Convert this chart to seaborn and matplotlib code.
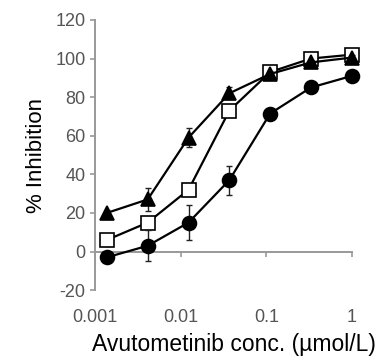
import matplotlib
matplotlib.use('Agg')
import matplotlib.pyplot as plt
import seaborn as sns
import pandas as pd

# threefold dilutions, µmol/L
conc = [1/729, 1/243, 1/81, 1/27, 1/9, 1/3, 1.0]

# % inhibition
tri_mean = [20, 27, 59, 82, 92, 98, 100.5]
tri_err = [1.5, 6, 5, 3, 1.5, 1.5, 1.5]
sq_mean = [6, 15, 32, 73, 93, 100, 102]
sq_err = [3, 2, 2, 2, 2, 1.5, 1.5]
circ_mean = [-3, 3, 15, 37, 71.5, 85, 91]
circ_err = [2, 8, 9, 7.5, 2, 1.5, 1.5]

xticks = [0.001, 0.01, 0.1, 1]
xticklabels = ['0.001', '0.01', '0.1', '1']
yticks = [-20, 0, 20, 40, 60, 80, 100, 120]

sns.set_theme(style="ticks")
plt.rcParams['font.family'] = ['Liberation Sans', 'DejaVu Sans']
plt.rcParams['axes.unicode_minus'] = False

df = pd.concat([
    pd.DataFrame({'conc': conc, 'inh': sq_mean, 'err': sq_err, 'series': 'sq'}),
    pd.DataFrame({'conc': conc, 'inh': tri_mean, 'err': tri_err, 'series': 'tri'}),
    pd.DataFrame({'conc': conc, 'inh': circ_mean, 'err': circ_err, 'series': 'circ'}),
])

fig = plt.figure(figsize=(3.82, 3.56), dpi=100)
ax = fig.add_axes([0.249, 0.185, 0.672, 0.759])

styles = {
    'sq': dict(marker='s', ms=10.5, mfc='white', z=3),
    'tri': dict(marker='^', ms=9.5, mfc='black', z=4),
    'circ': dict(marker='o', ms=10, mfc='black', z=5),
}

for name, st in styles.items():
    sub = df[df['series'] == name]
    ax.errorbar(sub['conc'], sub['inh'], yerr=sub['err'], fmt='none',
                ecolor='#222222', elinewidth=1.0, capsize=2.5, capthick=1.0,
                zorder=st['z'] - 0.5, clip_on=False)
    sns.lineplot(data=sub, x='conc', y='inh', ax=ax, color='black',
                 linewidth=1.6, marker=st['marker'], markersize=st['ms'],
                 markerfacecolor=st['mfc'], markeredgecolor='black',
                 markeredgewidth=1.2, zorder=st['z'], legend=False)

for ln in ax.lines:
    ln.set_clip_on(False)

ax.set_xscale('log')
ax.set_xlim(0.001, 1.0)
ax.set_ylim(-20, 120)
ax.set_xticks(xticks)
ax.set_xticklabels(xticklabels)
ax.minorticks_off()
ax.set_yticks(yticks)

ax.spines['top'].set_visible(False)
ax.spines['right'].set_visible(False)
ax.spines['bottom'].set_position(('data', 0))
for s in ('left', 'bottom'):
    ax.spines[s].set_color('#999999')
    ax.spines[s].set_linewidth(1.4)

ax.tick_params(axis='both', colors='#999999', length=3.5, width=1.2,
               labelsize=13, labelcolor='#555555')
ax.tick_params(axis='x', pad=38)

ax.set_xlabel('Avutometinib conc. (µmol/L)', fontsize=16.5, color='black')
ax.set_ylabel('% Inhibition', fontsize=16, color='black', labelpad=6)
ax.xaxis.set_label_coords(0.54, -0.16)

fig.savefig('out.png', dpi=100)
